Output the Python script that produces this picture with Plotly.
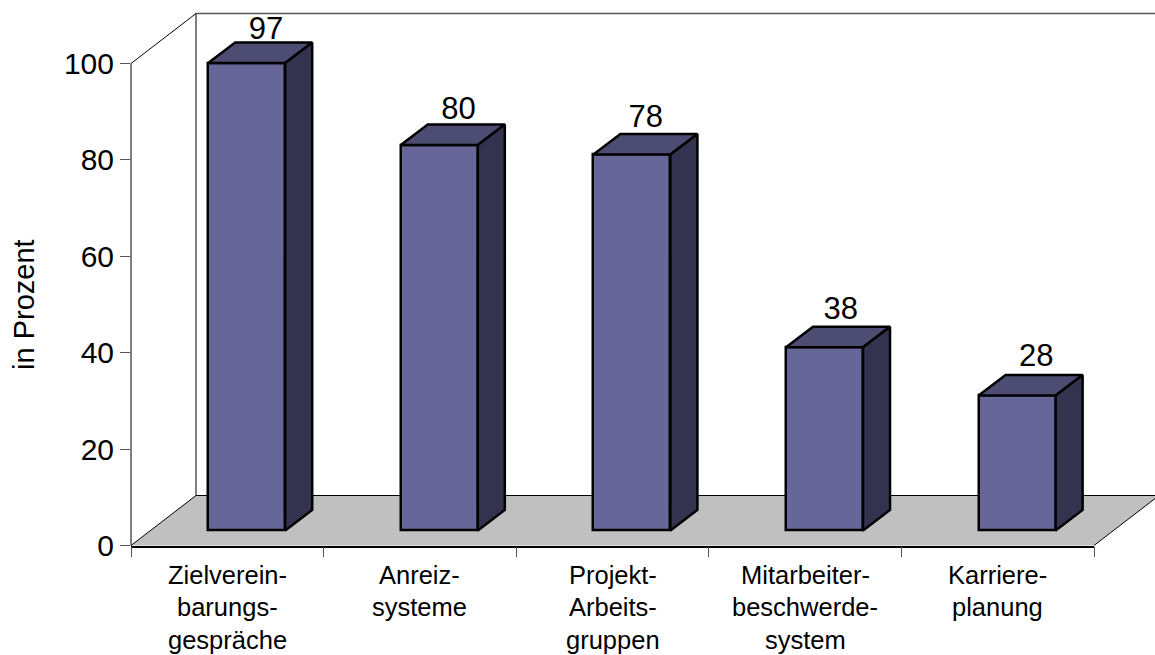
import plotly.graph_objects as go

# Chart content
categories = ["Zielverein-|barungs-|gespräche", "Anreiz-|systeme", "Projekt-|Arbeits-|gruppen",
              "Mitarbeiter-|beschwerde-|system", "Karriere-|planung"]
values = [97, 80, 78, 38, 28]
y_ticks = [0, 20, 40, 60, 80, 100]

# Page and axes placement, in pixels
PAGE_W, PAGE_H = 1155, 655
LEFT, RIGHT, BOTTOM, TOP = 131, 1094, 545.5, 63.5
UNIT_X = (RIGHT - LEFT) / len(values)
UNIT_Y = (BOTTOM - TOP) / 100
Y_MAX = 110  # the value axis runs on above 100 so the tallest column keeps its full height

# Oblique projection offsets, in data units
BAR_WIDTH = 0.4
BAR_SHIFT_X, BAR_SHIFT_Y = 19.4 / UNIT_X, 15 / UNIT_Y
BAR_DEPTH_X, BAR_DEPTH_Y = 27 / UNIT_X, 20.5 / UNIT_Y
WALL_DEPTH_X, WALL_DEPTH_Y = 65 / UNIT_X, 50 / UNIT_Y

# Small per-label placement corrections for the value labels, in pixels
LABEL_NUDGE_X = [0, 0, -5.5, -3, 0]
LABEL_NUDGE_Y = [-4, -2.5, -1, 0, 1]

FONT = "Liberation Sans, Arial, sans-serif"
FRONT, TOP_FACE, SIDE = "#666699", "#4d4d73", "#333350"
EDGE = 2.5


def paper(x, y):
    """Data position to a paper-coordinate path point."""
    return f"{(LEFT + x * UNIT_X) / PAGE_W:.5f} {(PAGE_H - BOTTOM + y * UNIT_Y) / PAGE_H:.5f}"


def poly(points, close=True):
    body = " L ".join(paper(x, y) for x, y in points)
    return "M " + body + (" Z" if close else "")


n = len(values)
centers = [i + 0.5 + BAR_SHIFT_X for i in range(n)]
lefts = [c - BAR_WIDTH / 2 for c in centers]
rights = [c + BAR_WIDTH / 2 for c in centers]

fig = go.Figure()

# Front faces of the columns
fig.add_trace(go.Bar(
    x=centers, y=values, base=BAR_SHIFT_Y, width=BAR_WIDTH,
    marker=dict(color=FRONT, line=dict(color="black", width=EDGE)),
    cliponaxis=False, showlegend=False, hoverinfo="skip",
))

# Top and side faces follow from the same values
top_x, top_y, side_x, side_y = [], [], [], []
for l, r, v in zip(lefts, rights, values):
    h = v + BAR_SHIFT_Y
    top_x += [l, r, r + BAR_DEPTH_X, l + BAR_DEPTH_X, l, None]
    top_y += [h, h, h + BAR_DEPTH_Y, h + BAR_DEPTH_Y, h, None]
    side_x += [r, r + BAR_DEPTH_X, r + BAR_DEPTH_X, r, r, None]
    side_y += [h, h + BAR_DEPTH_Y, BAR_SHIFT_Y + BAR_DEPTH_Y, BAR_SHIFT_Y, h, None]

for xs, ys, colour in ((top_x, top_y, TOP_FACE), (side_x, side_y, SIDE)):
    fig.add_trace(go.Scatter(
        x=xs, y=ys, mode="lines", fill="toself", fillcolor=colour,
        line=dict(color="black", width=EDGE), cliponaxis=False,
        showlegend=False, hoverinfo="skip",
    ))

# Value labels above each column
fig.add_trace(go.Scatter(
    x=[c + 0.1 + nx / UNIT_X for c, nx in zip(centers, LABEL_NUDGE_X)],
    y=[v + BAR_SHIFT_Y + BAR_DEPTH_Y + ny / UNIT_Y for v, ny in zip(values, LABEL_NUDGE_Y)],
    mode="text", text=[str(v) for v in values], textposition="top center",
    textfont=dict(family=FONT, size=31, color="black"),
    cliponaxis=False, showlegend=False, hoverinfo="skip",
))

# Floor and back wall of the 3D box, plus the value axis line
far_x = n + WALL_DEPTH_X
shapes = [
    dict(type="path", xref="paper", yref="paper", layer="below", fillcolor="#c0c0c0",
         line=dict(width=0),
         path=poly([(0, 0), (n, 0), (far_x, WALL_DEPTH_Y), (WALL_DEPTH_X, WALL_DEPTH_Y)])),
    dict(type="path", xref="paper", yref="paper", layer="below", line=dict(color="black", width=1),
         path=poly([(n, 0), (far_x, WALL_DEPTH_Y), (WALL_DEPTH_X, WALL_DEPTH_Y), (0, 0)], close=False)),
    dict(type="path", xref="paper", yref="paper", layer="below", line=dict(color="black", width=1),
         path=poly([(0, 0), (0, 100), (WALL_DEPTH_X, 100 + WALL_DEPTH_Y), (WALL_DEPTH_X, WALL_DEPTH_Y)], close=False)),
    dict(type="path", xref="paper", yref="paper", layer="below", line=dict(color="#555555", width=1.5),
         path=poly([(WALL_DEPTH_X, 100 + WALL_DEPTH_Y), (far_x, 100 + WALL_DEPTH_Y)], close=False)),
]

# Category labels, one annotation per line for the wide line spacing
annotations = []
for i, label in enumerate(categories):
    for j, line in enumerate(label.split("|")):
        annotations.append(dict(
            x=i + 0.5, y=0, xref="x", yref="y", text=line, showarrow=False,
            yshift=-29 - 32.5 * j, xanchor="center", yanchor="middle",
            font=dict(family=FONT, size=25.5, color="black"),
        ))

# Value axis title
annotations.append(dict(
    x=24 / PAGE_W, y=(PAGE_H - 305) / PAGE_H, xref="paper", yref="paper",
    text="in Prozent", textangle=-90, showarrow=False, xanchor="center", yanchor="middle",
    font=dict(family=FONT, size=29, color="black"),
))

fig.update_layout(
    width=PAGE_W, height=PAGE_H, margin=dict(l=0, r=0, t=0, b=0),
    paper_bgcolor="white", plot_bgcolor="rgba(0,0,0,0)", autosize=False,
    shapes=shapes, annotations=annotations, showlegend=False, bargap=0,
    xaxis=dict(
        domain=[LEFT / PAGE_W, RIGHT / PAGE_W], range=[0, n], automargin=False,
        tickmode="array", tickvals=list(range(n + 1)), ticktext=[""] * (n + 1),
        ticks="outside", ticklen=10, tickcolor="#555555", tickwidth=1,
        showline=True, linecolor="black", linewidth=1.5, showgrid=False, zeroline=False,
    ),
    yaxis=dict(
        domain=[(PAGE_H - BOTTOM) / PAGE_H, (PAGE_H - BOTTOM + Y_MAX * UNIT_Y) / PAGE_H],
        range=[0, Y_MAX], automargin=False,
        tickmode="array", tickvals=y_ticks, ticks="outside", ticklen=10,
        tickcolor="#555555", tickwidth=1,
        showline=False, showgrid=False, zeroline=False,
        tickfont=dict(family=FONT, size=30, color="black"),
    ),
)

fig.write_html("out.html", config=dict(displayModeBar=False))
